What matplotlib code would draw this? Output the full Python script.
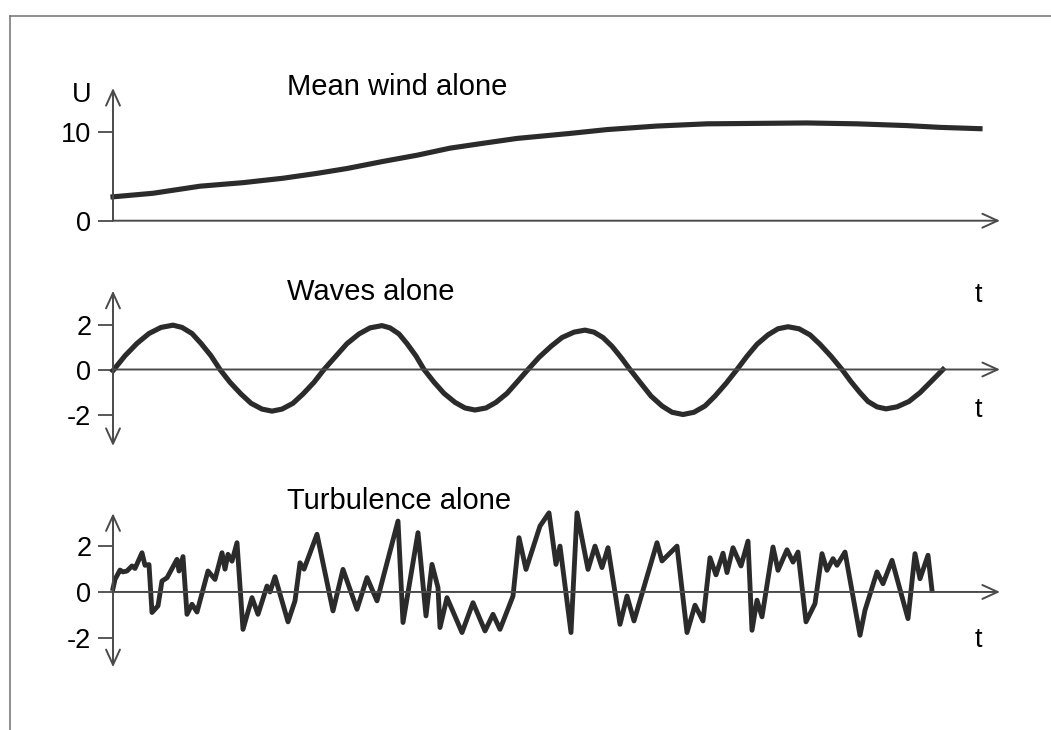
import matplotlib
matplotlib.use('Agg')
import matplotlib.pyplot as plt
from matplotlib.lines import Line2D

plt.rcParams['font.family'] = ['Liberation Sans', 'DejaVu Sans']
plt.rcParams['axes.unicode_minus'] = False

# time runs from 0 to the arrow tip (arbitrary units)
t_end = 887

# mean wind U(t)
wind_t = [0, 40, 87, 130, 170, 204, 234, 270, 304, 337, 370, 404, 437, 460,
          494, 544, 594, 644, 694, 744, 794, 827, 867]
wind_u = [2.7, 3.1, 3.9, 4.3, 4.8, 5.35, 5.9, 6.7, 7.4, 8.2, 8.75, 9.3, 9.65, 9.9,
          10.3, 10.7, 10.95, 11.0, 11.05, 10.95, 10.75, 10.55, 10.4]

# waves
wave_t = [0, 12, 24, 36, 48, 60, 69, 79, 88, 98, 107,
          117, 128, 138, 149, 159, 169, 180, 190, 201, 211,
          223, 234, 246, 257, 269, 277, 286, 294, 303, 311,
          321, 331, 342, 352, 362, 373, 383, 394, 404, 415,
          426, 438, 449, 461, 472, 481, 490, 499, 508, 517,
          528, 538, 549, 559, 570, 581, 592, 602, 613, 624,
          634, 644, 655, 665, 675, 686, 697, 707, 718, 729,
          738, 747, 755, 764, 773, 784, 796, 807, 818, 830]
wave_y = [-0.05, 0.61, 1.16, 1.60, 1.87, 1.97, 1.87, 1.60, 1.16, 0.61, 0,
          -0.57, -1.09, -1.50, -1.76, -1.85, -1.76, -1.50, -1.09, -0.57, 0,
          0.60, 1.15, 1.58, 1.85, 1.95, 1.85, 1.58, 1.15, 0.60, 0,
          -0.56, -1.06, -1.46, -1.71, -1.80, -1.71, -1.46, -1.06, -0.56, 0,
          0.54, 1.03, 1.42, 1.66, 1.75, 1.66, 1.42, 1.03, 0.54, 0,
          -0.62, -1.18, -1.62, -1.90, -2.00, -1.90, -1.62, -1.18, -0.62, 0,
          0.59, 1.12, 1.54, 1.81, 1.90, 1.81, 1.54, 1.12, 0.59, 0,
          -0.54, -1.03, -1.42, -1.66, -1.75, -1.66, -1.42, -1.03, -0.54, 0]

# turbulence
turb_t = [0, 2, 7, 10, 14, 19, 22, 29, 32, 36, 39, 45, 49, 54, 64, 66, 70, 74,
          79, 84, 95, 102, 109, 112, 115, 119, 124, 130, 139, 145, 154, 157,
          162, 175, 182, 187, 191, 204, 220, 230, 244, 254, 264, 285, 290, 305,
          313, 319, 325, 327, 334, 349, 360, 372, 380, 387, 400, 406, 413, 427,
          436, 443, 447, 458, 464, 475, 482, 489, 495, 507, 514, 521, 544, 549,
          564, 574, 582, 590, 597, 603, 610, 614, 620, 628, 635, 639, 644, 649,
          660, 665, 674, 680, 685, 693, 702, 709, 714, 720, 724, 732, 747, 752,
          764, 770, 779, 795, 802, 807, 815, 819]
turb_y = [0.15, 0.55, 0.96, 0.88, 0.92, 1.14, 1.03, 1.72, 1.17, 1.2, -0.9, -0.61,
          0.48, 0.62, 1.43, 0.92, 1.55, -0.98, -0.54, -0.88, 0.92, 0.55, 1.72,
          1.0, 1.65, 1.35, 2.16, -1.64, -0.25, -0.98, 0.26, 0.0, 0.67, -1.31,
          -0.39, 1.28, 1.0, 2.53, -0.83, 0.99, -0.76, 0.63, -0.39, 3.11, -1.34,
          2.6, -1.05, 1.21, 0.19, -1.56, -0.25, -1.78, -0.47, -1.71, -0.98,
          -1.64, -0.18, 2.38, 0.99, 2.89, 3.47, 1.21, 2.01, -1.78, 3.47, 0.99,
          2.01, 1.07, 1.94, -1.42, -0.18, -1.27, 2.16, 1.36, 2.01, -1.78, -0.58,
          -1.27, 1.5, 0.75, 1.7, 0.85, 1.94, 1.14, 2.23, -1.68, -0.36, -1.09,
          1.97, 0.95, 1.85, 1.31, 1.75, -1.31, -0.51, 1.68, 0.95, 1.46, 1.17,
          1.75, -1.9, -0.8, 0.88, 0.36, 1.39, -1.17, 1.68, 0.58, 1.61, 0.07]

titles = ['Mean wind alone', 'Waves alone', 'Turbulence alone']
wind_ticks = [0, 10]
wind_ticklabels = ['0', '10']
fluct_ticks = [-2, 0, 2]
fluct_ticklabels = ['-2', '0', '2']

W, H = 1051, 730
fig = plt.figure(figsize=(W / 100, H / 100), dpi=100)
fig.patch.set_facecolor('white')

line_c = '#2b2b2b'
axis_c = '#4a4a4a'
fs = 19.5


def make_axes(top, bottom, ylim):
    ax = fig.add_axes([113 / W, 1 - bottom / H, t_end / W, (bottom - top) / H])
    ax.set_xlim(0, t_end)
    ax.set_ylim(*ylim)
    ax.patch.set_alpha(0)
    for s in ax.spines.values():
        s.set_visible(False)
    ax.set_xticks([])
    ax.tick_params(axis='y', direction='out', length=10.5, width=1.3,
                   color=axis_c, labelsize=fs, pad=5)
    return ax


def axis_arrows(ax, both):
    y0, y1 = ax.get_ylim()
    ax.annotate('', xy=(t_end, 0), xytext=(0, 0),
                arrowprops=dict(arrowstyle='->,head_length=1.1,head_width=0.5',
                                lw=1.4, color=axis_c, shrinkA=0, shrinkB=0))
    style = '<->' if both else '->'
    ax.annotate('', xy=(0, y1), xytext=(0, y0 if both else 0),
                arrowprops=dict(arrowstyle=style + ',head_length=1.1,head_width=0.5',
                                lw=1.4, color=axis_c, shrinkA=0, shrinkB=0))


# panel 1: mean wind
ax1 = make_axes(88, 220.7, (0, 15))
ax1.set_yticks(wind_ticks, wind_ticklabels)
axis_arrows(ax1, False)
ax1.plot(wind_t, wind_u, color=line_c, lw=3.7, clip_on=False)

# panel 2: waves
ax2 = make_axes(290.75, 446, (-3.4, 3.5))
ax2.set_yticks(fluct_ticks, fluct_ticklabels)
axis_arrows(ax2, True)
ax2.plot(wave_t, wave_y, color=line_c, lw=3.7, clip_on=False)

# panel 3: turbulence
ax3 = make_axes(513.3, 667.2, (-3.3, 3.45))
ax3.set_yticks(fluct_ticks, fluct_ticklabels)
axis_arrows(ax3, True)
ax3.plot(turb_t, turb_y, color=line_c, lw=3.5, clip_on=False)

# labels
for txt, base in zip(titles, [95, 300, 509]):
    fig.text(287 / W, 1 - base / H, txt, ha='left', va='baseline', fontsize=21)
fig.text(82 / W, 1 - 102 / H, 'U', ha='center', va='baseline', fontsize=fs)
for base in [302, 417, 647]:
    fig.text(978 / W, 1 - base / H, 't', ha='center', va='baseline', fontsize=fs)

# outer frame (top and left edges)
fig.add_artist(Line2D([10 / W, 1], [1 - 15.5 / H, 1 - 15.5 / H], color='#707070', lw=1.1))
fig.add_artist(Line2D([10 / W, 10 / W], [0, 1 - 15.5 / H], color='#707070', lw=1.1))

fig.savefig('out.png', dpi=100)
